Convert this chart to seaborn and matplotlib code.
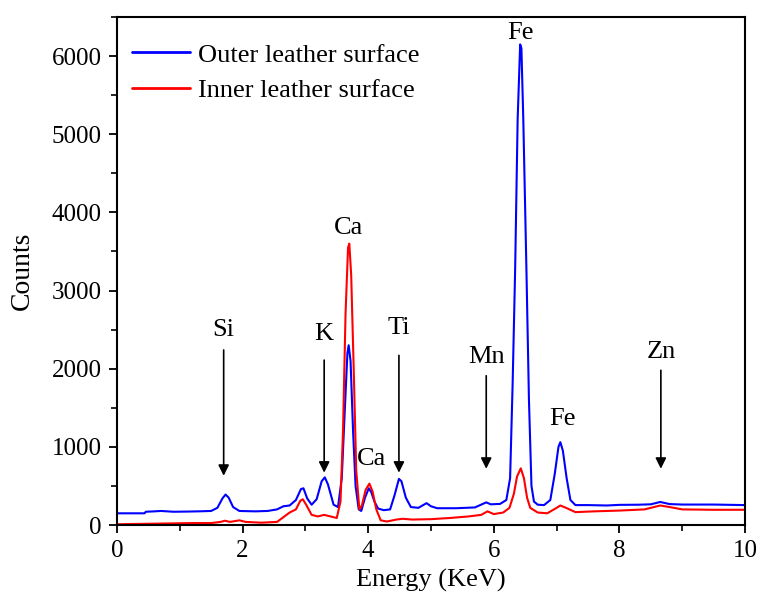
import matplotlib
matplotlib.use("Agg")
import matplotlib.pyplot as plt
import seaborn as sns
import pandas as pd
from matplotlib.ticker import MultipleLocator

# ---- data (Energy keV, Counts) ----
outer_energy = [0.00, 0.44, 0.46, 0.60, 0.70, 0.90, 1.10, 1.30, 1.50, 1.60, 1.68, 1.73, 1.78, 1.85,
                1.95, 2.20, 2.40, 2.55, 2.65, 2.75, 2.85, 2.93, 2.97, 3.03, 3.10, 3.18, 3.26, 3.31,
                3.36, 3.45, 3.52, 3.58, 3.63, 3.67, 3.69, 3.72, 3.76, 3.80, 3.85, 3.89, 3.95, 4.01,
                4.05, 4.10, 4.16, 4.25, 4.35, 4.42, 4.49, 4.53, 4.60, 4.68, 4.80, 4.93, 5.00, 5.10,
                5.40, 5.70, 5.88, 5.95, 6.10, 6.20, 6.26, 6.30, 6.34, 6.38, 6.42, 6.44, 6.47, 6.52,
                6.56, 6.60, 6.64, 6.70, 6.80, 6.90, 6.97, 7.03, 7.06, 7.10, 7.16, 7.22, 7.30, 7.50,
                7.80, 8.00, 8.30, 8.50, 8.65, 8.80, 9.00, 9.50, 10.00]
outer_counts = [150, 150, 170, 175, 180, 170, 172, 175, 180, 220, 340, 390, 350, 230,
                180, 175, 180, 200, 240, 250, 320, 460, 470, 340, 260, 330, 560, 610,
                520, 260, 230, 600, 1500, 2200, 2300, 2100, 1200, 500, 200, 180, 350, 470,
                420, 300, 210, 190, 200, 380, 590, 560, 350, 230, 220, 280, 240, 215,
                215, 225, 290, 265, 270, 320, 600, 1800, 3260, 5190, 6150, 6100, 5190, 3260,
                1600, 500, 300, 260, 255, 320, 650, 1000, 1060, 950, 600, 320, 255, 255,
                250, 258, 260, 265, 295, 268, 262, 262, 255]

inner_energy = [0.00, 0.40, 0.80, 1.20, 1.50, 1.65, 1.72, 1.80, 1.95, 2.05, 2.30, 2.55, 2.65, 2.75,
                2.85, 2.92, 2.96, 3.02, 3.10, 3.20, 3.30, 3.40, 3.50, 3.56, 3.60, 3.64, 3.68, 3.70,
                3.73, 3.77, 3.81, 3.86, 3.90, 3.96, 4.02, 4.07, 4.13, 4.20, 4.30, 4.45, 4.55, 4.70,
                5.00, 5.30, 5.60, 5.80, 5.90, 6.00, 6.15, 6.25, 6.32, 6.37, 6.43, 6.48, 6.53, 6.58,
                6.70, 6.85, 6.98, 7.06, 7.15, 7.30, 7.60, 8.00, 8.40, 8.65, 8.80, 9.00, 9.50, 10.00]
inner_counts = [10, 15, 20, 25, 25, 40, 55, 40, 60, 40, 30, 40, 100, 160,
                200, 310, 330, 250, 130, 110, 130, 110, 90, 300, 1200, 2700, 3550, 3600,
                3200, 2000, 700, 200, 250, 450, 530, 430, 200, 60, 45, 70, 80, 70,
                75, 90, 110, 130, 175, 140, 160, 220, 400, 620, 725, 600, 350, 220,
                160, 150, 210, 250, 220, 165, 175, 185, 200, 250, 230, 200, 195, 195]

series_names = ["Outer leather surface", "Inner leather surface"]
series_colors = ["#0000FF", "#FF0000"]

# peak labels: (text, x, y) and arrows: (x, y_start, y_end)
label_text = ["Si", "K", "Ti", "Mn", "Zn", "Ca", "Ca", "Fe", "Fe"]
label_x = [1.70, 3.30, 4.49, 5.88, 8.66, 3.68, 4.05, 6.43, 7.10]
label_y = [2490, 2450, 2520, 2150, 2210, 3800, 840, 6290, 1360]
arrow_x = [1.70, 3.30, 4.49, 5.88, 8.66]
arrow_y0 = [2240, 2110, 2170, 1910, 1980]
arrow_y1 = [630, 670, 670, 720, 720]

df = pd.concat([
    pd.DataFrame({"Energy": outer_energy, "Counts": outer_counts, "Series": series_names[0]}),
    pd.DataFrame({"Energy": inner_energy, "Counts": inner_counts, "Series": series_names[1]}),
])

sns.set_style("ticks")
plt.rcParams["font.family"] = ["Liberation Serif", "DejaVu Serif"]
plt.rcParams["text.color"] = "black"
plt.rcParams["axes.labelcolor"] = "black"

fig = plt.figure(figsize=(7.59, 5.95), dpi=100)
ax = fig.add_axes([0.154, 0.1176, 0.8276, 0.8538])

sns.lineplot(data=df, x="Energy", y="Counts", hue="Series", palette=series_colors,
             hue_order=series_names, sort=False, linewidth=1.5, ax=ax)

ax.set_xlim(0, 10)
ax.set_ylim(0, 6500)
ax.xaxis.set_major_locator(MultipleLocator(2))
ax.xaxis.set_minor_locator(MultipleLocator(1))
ax.yaxis.set_major_locator(MultipleLocator(1000))
ax.yaxis.set_minor_locator(MultipleLocator(500))
ax.tick_params(axis="both", which="major", direction="out", length=6, width=1.3,
               labelsize=18, color="black", labelcolor="black", pad=5)
ax.tick_params(axis="both", which="minor", direction="out", length=4, width=1.2, color="black")
for s in ax.spines.values():
    s.set_visible(True)
    s.set_linewidth(1.5)
    s.set_color("black")

ax.set_xlabel("Energy (KeV)", fontsize=19, labelpad=5, color="black")
ax.set_ylabel("Counts", fontsize=20, labelpad=12, color="black")

for t, x, y in zip(label_text, label_x, label_y):
    ax.text(x, y, t, fontsize=19, ha="center", va="center", color="black")
for x, y0, y1 in zip(arrow_x, arrow_y0, arrow_y1):
    ax.annotate("", xy=(x, y1), xytext=(x, y0),
                arrowprops=dict(arrowstyle="-|>", color="black", lw=1.2,
                                mutation_scale=16, shrinkA=0, shrinkB=0))

leg = ax.legend(loc="upper left", frameon=False, fontsize=19, handlelength=2.2,
                handletextpad=0.3, borderaxespad=0.3, labelspacing=0.45,
                bbox_to_anchor=(-0.005, 0.985), labelcolor="black")
for line in leg.get_lines():
    line.set_linewidth(2.0)

fig.savefig("out.png", dpi=100)
